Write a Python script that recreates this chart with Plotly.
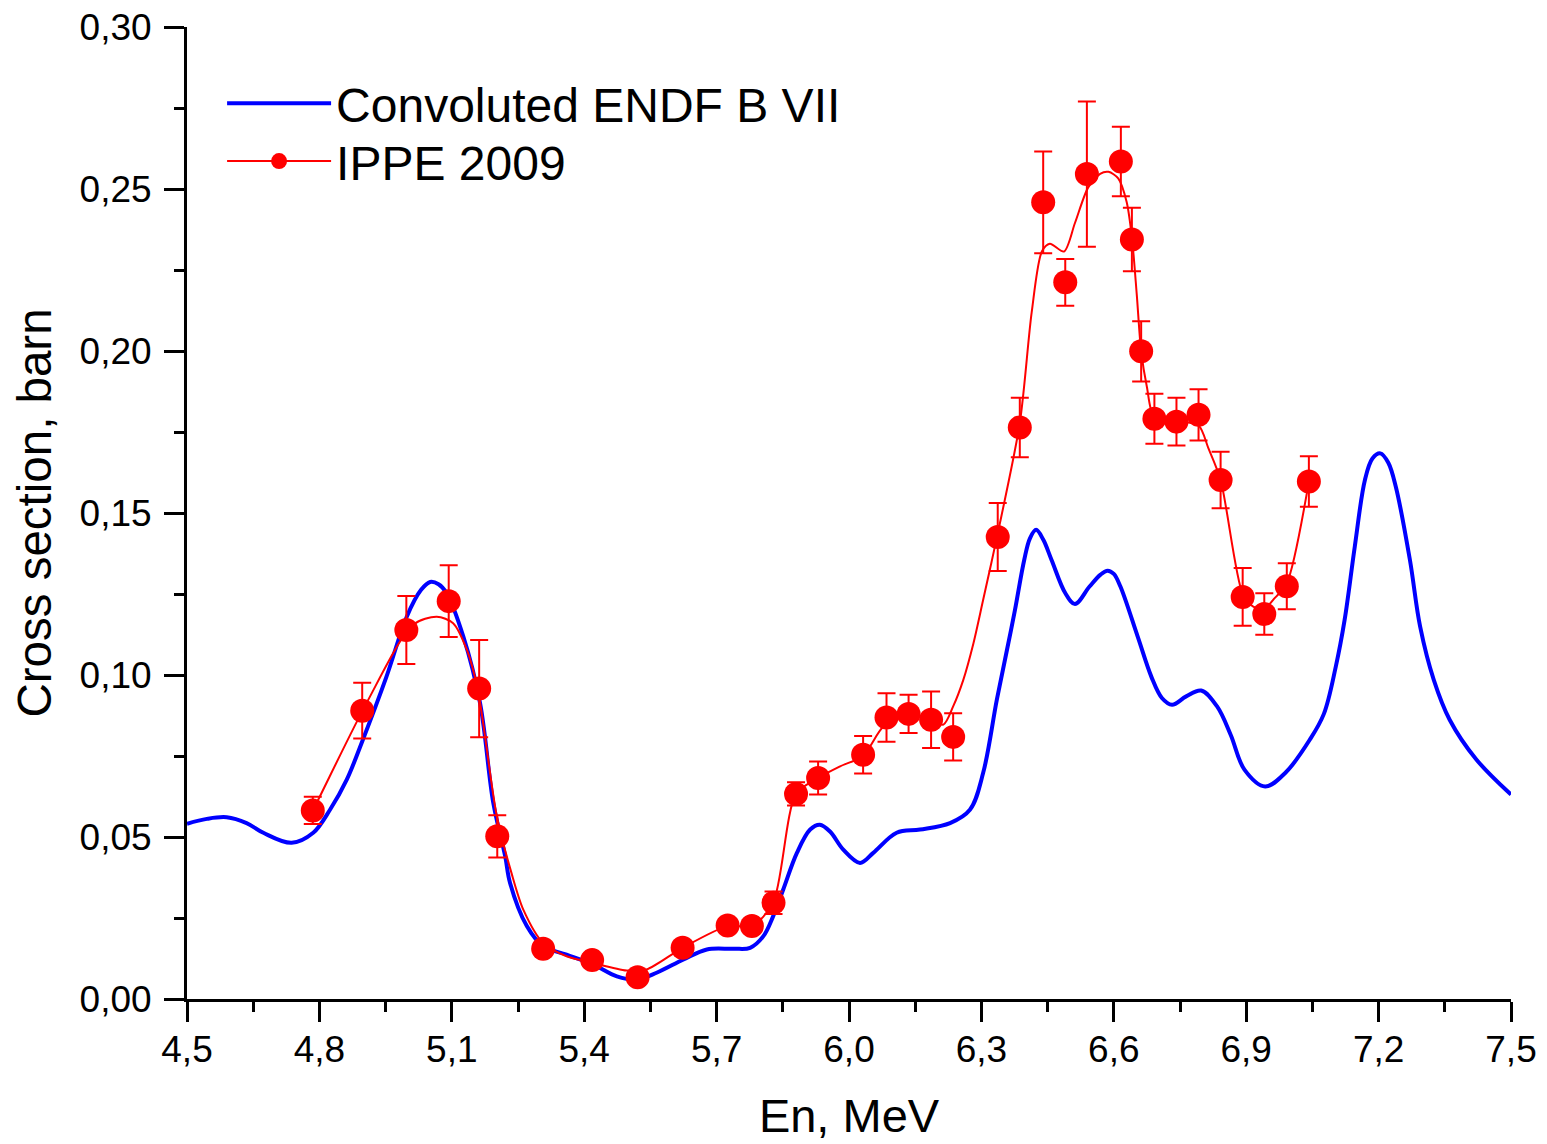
import plotly.graph_objects as go

# Convoluted ENDF B VII curve (energy MeV, cross section barn)
endf_e = [4.500, 4.545, 4.590, 4.635, 4.673, 4.737, 4.786, 4.824, 4.862, 4.897,
          4.952, 4.998, 5.030, 5.051, 5.070, 5.088, 5.126, 5.164, 5.194, 5.221, 5.232, 5.270,
          5.307, 5.360, 5.421, 5.474, 5.519, 5.564, 5.625, 5.678, 5.738, 5.776,
          5.806, 5.828, 5.851, 5.882, 5.912, 5.934, 5.957, 5.987, 6.025, 6.055,
          6.108, 6.161, 6.229, 6.274, 6.304, 6.335, 6.358, 6.376, 6.397, 6.410, 6.424,
          6.440, 6.459, 6.490, 6.512, 6.545, 6.570, 6.586, 6.600, 6.615, 6.654, 6.685, 6.709, 6.732,
          6.764, 6.798, 6.834, 6.865, 6.896, 6.943, 6.990, 7.044, 7.076, 7.103,
          7.123, 7.146, 7.169, 7.186, 7.204, 7.222, 7.239, 7.271, 7.294, 7.325, 7.361, 7.421,
          7.500]
endf_s = [0.0541, 0.0556, 0.0561, 0.0543, 0.0513, 0.0482, 0.0513, 0.0584, 0.0677, 0.0795,
          0.0995, 0.1180, 0.1262, 0.1287, 0.1280, 0.1253, 0.1119, 0.0913, 0.0605, 0.0440, 0.0358, 0.0225,
          0.0163, 0.0137, 0.0106, 0.0070, 0.0060, 0.0081, 0.0122, 0.0153, 0.0155, 0.0158,
          0.0194, 0.0255, 0.0338, 0.0451, 0.0523, 0.0538, 0.0517, 0.0461, 0.0420, 0.0451,
          0.0513, 0.0523, 0.0543, 0.0584, 0.0698, 0.0924, 0.1078, 0.1200, 0.1355, 0.1422, 0.1448,
          0.1418, 0.1355, 0.1253, 0.1219, 0.1273, 0.1310, 0.1322, 0.1312, 0.1273, 0.1119, 0.0995, 0.0929, 0.0908,
          0.0934, 0.0952, 0.0903, 0.0815, 0.0708, 0.0656, 0.0700, 0.0800, 0.0880, 0.1026,
          0.1170, 0.1396, 0.1602, 0.1668, 0.1684, 0.1655, 0.1581, 0.1355, 0.1150, 0.0985, 0.0862, 0.0740,
          0.0631]

# IPPE 2009 measured points
ippe_e = [4.785, 4.897, 4.997, 5.093, 5.162, 5.203, 5.307, 5.418, 5.521, 5.623,
          5.725, 5.780, 5.829, 5.880, 5.930, 6.032, 6.085, 6.135, 6.186, 6.236,
          6.337, 6.387, 6.440, 6.490, 6.539, 6.616, 6.641, 6.662, 6.692, 6.742,
          6.792, 6.842, 6.892, 6.941, 6.992, 7.042]
ippe_s = [0.0582, 0.0890, 0.1139, 0.1228, 0.0958, 0.0502, 0.0155, 0.0120, 0.0067, 0.0158,
          0.0227, 0.0225, 0.0297, 0.0633, 0.0682, 0.0754, 0.0869, 0.0880, 0.0862, 0.0809,
          0.1426, 0.1764, 0.2459, 0.2212, 0.2546, 0.2585, 0.2344, 0.1999, 0.1791, 0.1782,
          0.1803, 0.1602, 0.1241, 0.1188, 0.1274, 0.1597]
ippe_err = [0.0042, 0.0086, 0.0105, 0.0111, 0.0150, 0.0065, 0.0020, 0.0020, 0.0015, 0.0020,
            0.0020, 0.0020, 0.0035, 0.0036, 0.0051, 0.0058, 0.0075, 0.0059, 0.0087, 0.0073,
            0.0105, 0.0092, 0.0157, 0.0072, 0.0224, 0.0107, 0.0098, 0.0093, 0.0077, 0.0074,
            0.0079, 0.0087, 0.0089, 0.0064, 0.0071, 0.0078]

# Smooth line drawn through the IPPE points
fit_e = [4.785, 4.801, 4.907, 5.012, 5.066, 5.103, 5.134, 5.159, 5.202, 5.235,
         5.262, 5.307, 5.360, 5.418, 5.496, 5.541, 5.623, 5.725, 5.780, 5.828,
         5.880, 5.930, 5.980, 6.032, 6.078, 6.135, 6.186, 6.214, 6.236, 6.259,
         6.282, 6.304, 6.337, 6.387, 6.414, 6.437, 6.455, 6.487, 6.512, 6.542,
         6.569, 6.588, 6.610, 6.629, 6.641, 6.652, 6.662, 6.675, 6.692, 6.742,
         6.792, 6.814, 6.842, 6.892, 6.916, 6.941, 6.965, 6.992, 7.042]
fit_s = [0.0582, 0.0625, 0.0914, 0.1155, 0.1180, 0.1160, 0.1078, 0.0954, 0.0564, 0.0390,
         0.0276, 0.0173, 0.0132, 0.0112, 0.0088, 0.0091, 0.0158, 0.0225, 0.0225, 0.0297,
         0.0633, 0.0682, 0.0718, 0.0751, 0.0841, 0.0880, 0.0862, 0.0847, 0.0903, 0.0985,
         0.1098, 0.1232, 0.1437, 0.1778, 0.2120, 0.2307, 0.2331, 0.2307, 0.2395, 0.2505,
         0.2547, 0.2553, 0.2533, 0.2461, 0.2351, 0.2175, 0.1999, 0.1889, 0.1795, 0.1784,
         0.1770, 0.1701, 0.1602, 0.1250, 0.1211, 0.1205, 0.1238, 0.1283, 0.1597]

FONT = "Liberation Sans, Arial, sans-serif"
BLUE = "#0000FF"
RED = "#FF0000"

fig = go.Figure()

fig.add_trace(go.Scatter(
    x=endf_e, y=endf_s, mode="lines", name="Convoluted ENDF B VII",
    line=dict(color=BLUE, width=4, shape="spline", smoothing=1.0),
    legend="legend",
))
fig.add_trace(go.Scatter(
    x=fit_e, y=fit_s, mode="lines", showlegend=False,
    line=dict(color=RED, width=2, shape="spline", smoothing=0.8),
))
fig.add_trace(go.Scatter(
    x=ippe_e, y=ippe_s, mode="markers", showlegend=False,
    marker=dict(color=RED, size=24, line=dict(width=0)),
    error_y=dict(type="data", array=ippe_err, visible=True,
                 color=RED, thickness=2, width=9),
))
# legend entry for IPPE 2009 (line + marker symbol)
fig.add_trace(go.Scatter(
    x=[None], y=[None], mode="lines+markers", name="IPPE 2009",
    line=dict(color=RED, width=2),
    marker=dict(color=RED, size=24),
    legend="legend2",
))

axis_common = dict(
    showline=True, linewidth=3, linecolor="black",
    ticks="outside", ticklen=20, tickwidth=3, tickcolor="black",
    showgrid=False, zeroline=False,
    tickfont=dict(family=FONT, size=37, color="black"),
)

fig.update_xaxes(
    range=[4.5, 7.5], tick0=4.5, dtick=0.3, tickformat=".1f",
    minor=dict(ticks="outside", ticklen=10, tickwidth=3, tickcolor="black",
               tick0=4.5, dtick=0.15, showgrid=False),
    title=dict(text="En, MeV", font=dict(family=FONT, size=47, color="black"), standoff=30),
    **axis_common,
)
try:
    fig.update_xaxes(ticklabelstandoff=-4)
except Exception:
    fig.update_xaxes(ticklabelstandoff=0)

fig.update_yaxes(
    range=[0, 0.30], tick0=0, dtick=0.05, tickformat=".2f",
    minor=dict(ticks="outside", ticklen=10, tickwidth=3, tickcolor="black",
               tick0=0, dtick=0.025, showgrid=False),
    title=dict(text="Cross section, barn", font=dict(family=FONT, size=47.5, color="black"), standoff=13),
    ticklabelstandoff=5,
    **axis_common,
)

legend_common = dict(
    xanchor="left", yanchor="top",
    bgcolor="rgba(0,0,0,0)", borderwidth=0,
    font=dict(family=FONT, size=48, color="black"),
    itemwidth=104, tracegroupgap=0,
)

fig.update_layout(
    width=1547, height=1144,
    margin=dict(l=187, r=36, t=27, b=145, autoexpand=False),
    paper_bgcolor="white", plot_bgcolor="white",
    separators=", ",
    font=dict(family=FONT, color="black"),
    showlegend=True,
    legend=dict(x=0.0265, y=0.9604, **legend_common),
    legend2=dict(x=0.0265, y=0.9008, **legend_common),
)

fig.write_html("out.html",
               config={"displayModeBar": False},
               post_script="document.body.style.margin='0px';document.body.style.overflow='hidden';")
